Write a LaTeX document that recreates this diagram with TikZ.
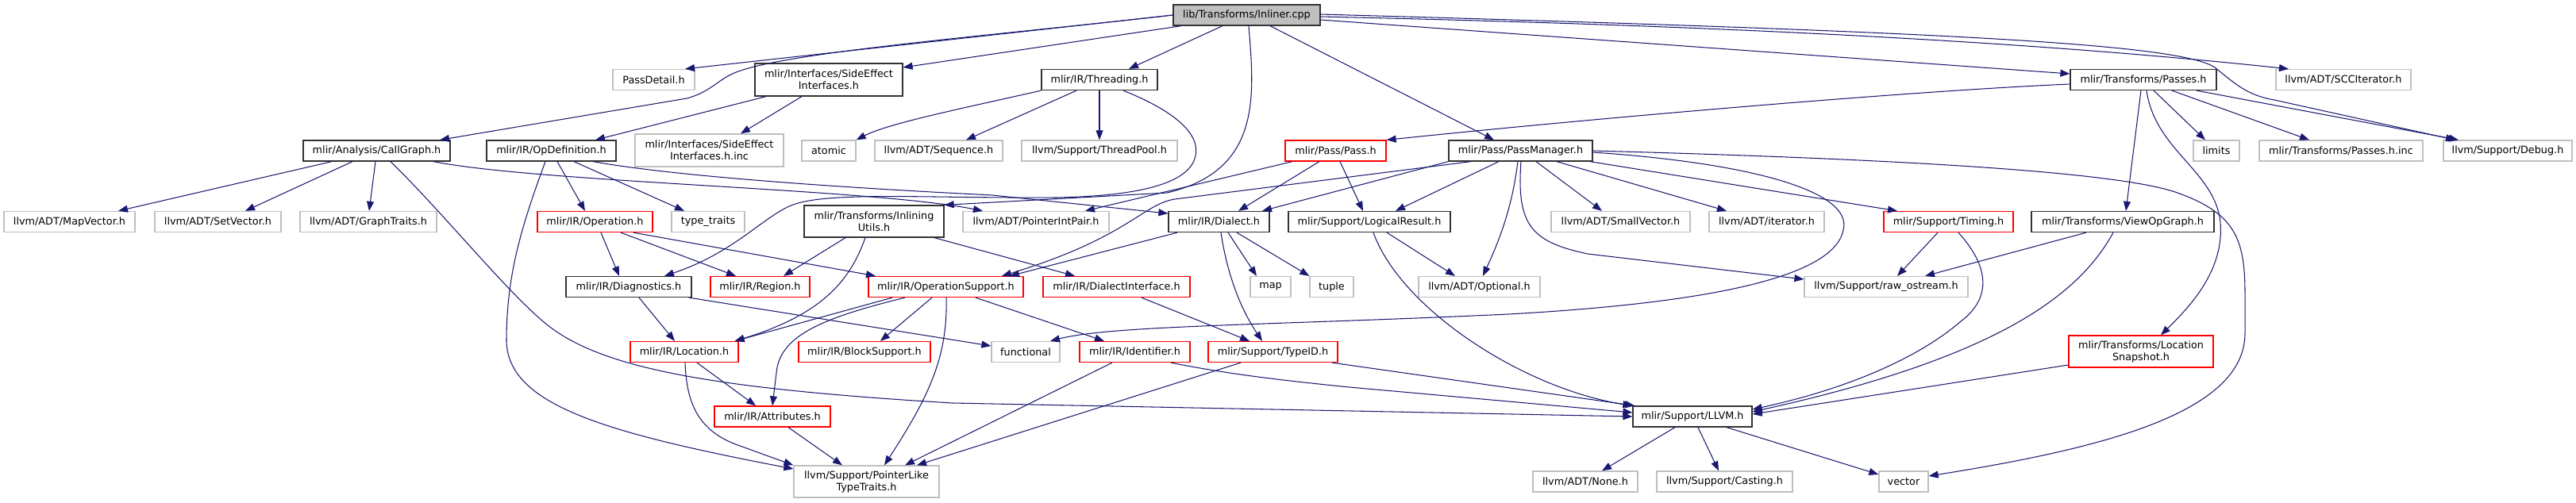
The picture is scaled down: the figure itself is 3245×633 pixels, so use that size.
\documentclass[tikz,border=0pt]{standalone}
\usepackage{fontspec}
\setmainfont{DejaVu Sans}
\usetikzlibrary{arrows.meta}
\definecolor{edgec}{HTML}{191970}
\definecolor{gborder}{HTML}{BFBFBF}
\definecolor{rborder}{HTML}{FF0000}
\definecolor{bborder}{HTML}{333333}
\definecolor{rootfill}{HTML}{BFBFBF}
\tikzset{
  box/.style={rectangle, inner sep=0pt, line width=1.25pt, fill=white,
    font=\fontsize{12.8}{15}\selectfont, align=center},
  bk/.style={box, draw=bborder},
  gr/.style={box, draw=gborder},
  rd/.style={box, draw=rborder},
  root/.style={box, draw=bborder, fill=rootfill},
  edge/.style={draw=edgec, line width=1.05pt, -{Triangle[length=12pt,width=9pt]}}
}
\begin{document}
\begin{tikzpicture}[x=1pt,y=-1pt]
\useasboundingbox (0,0) rectangle (3245,633);
% row 1
\node[root, minimum width=185, minimum height=26] (inliner) at (1570.5,19) {lib/Transforms/Inliner.cpp};
% row 2
\node[gr, minimum width=103, minimum height=26] (passdetail) at (823.5,100.5) {PassDetail.h};
\node[bk, minimum width=186, minimum height=41] (sideeffect) at (1044,100.5) {mlir/Interfaces/SideEffect\\Interfaces.h};
\node[bk, minimum width=146, minimum height=26] (threading) at (1385,100.5) {mlir/IR/Threading.h};
\node[bk, minimum width=184, minimum height=26] (passes) at (2700,100.5) {mlir/Transforms/Passes.h};
\node[gr, minimum width=170, minimum height=26] (scc) at (2952,100.5) {llvm/ADT/SCCIterator.h};
% row 3
\node[bk, minimum width=185, minimum height=26] (callgraph) at (474.5,190) {mlir/Analysis/CallGraph.h};
\node[bk, minimum width=163, minimum height=26] (opdef) at (694.5,190) {mlir/IR/OpDefinition.h};
\node[gr, minimum width=187, minimum height=41] (seinc) at (893.5,189.5) {mlir/Interfaces/SideEffect\\Interfaces.h.inc};
\node[gr, minimum width=68, minimum height=26] (atomic) at (1044,190) {atomic};
\node[gr, minimum width=161, minimum height=26] (sequence) at (1182.5,190) {llvm/ADT/Sequence.h};
\node[gr, minimum width=196, minimum height=26] (threadpool) at (1385,190) {llvm/Support/ThreadPool.h};
\node[rd, minimum width=127, minimum height=26] (pass) at (1682.5,190) {mlir/Pass/Pass.h};
\node[bk, minimum width=181, minimum height=26] (passmanager) at (1915.5,190) {mlir/Pass/PassManager.h};
\node[gr, minimum width=58, minimum height=26] (limits) at (2792,190) {limits};
\node[gr, minimum width=206, minimum height=26] (passesinc) at (2949,190) {mlir/Transforms/Passes.h.inc};
\node[gr, minimum width=162, minimum height=26] (debug) at (3159,190) {llvm/Support/Debug.h};
% row 4
\node[gr, minimum width=165, minimum height=26] (mapvector) at (87.5,279.5) {llvm/ADT/MapVector.h};
\node[gr, minimum width=159, minimum height=26] (setvector) at (274.5,279.5) {llvm/ADT/SetVector.h};
\node[gr, minimum width=172, minimum height=26] (graphtraits) at (464,279.5) {llvm/ADT/GraphTraits.h};
\node[rd, minimum width=145, minimum height=26] (operation) at (749.5,279.5) {mlir/IR/Operation.h};
\node[gr, minimum width=92, minimum height=26] (typetraits) at (892,279.5) {type\_traits};
\node[bk, minimum width=176, minimum height=40] (inlining) at (1101,279) {mlir/Transforms/Inlining\\Utils.h};
\node[gr, minimum width=184, minimum height=26] (pointerintpair) at (1305,279.5) {llvm/ADT/PointerIntPair.h};
\node[bk, minimum width=127, minimum height=26] (dialect) at (1535.5,279.5) {mlir/IR/Dialect.h};
\node[bk, minimum width=204, minimum height=26] (logicalresult) at (1725,279.5) {mlir/Support/LogicalResult.h};
\node[gr, minimum width=175, minimum height=26] (smallvector) at (2041.5,279.5) {llvm/ADT/SmallVector.h};
\node[gr, minimum width=145, minimum height=26] (iterator) at (2225.5,279.5) {llvm/ADT/iterator.h};
\node[rd, minimum width=163, minimum height=26] (timing) at (2454.5,279.5) {mlir/Support/Timing.h};
\node[bk, minimum width=230, minimum height=26] (viewopgraph) at (2674,279.5) {mlir/Transforms/ViewOpGraph.h};
% row 5
\node[bk, minimum width=158, minimum height=26] (diagnostics) at (792,361.5) {mlir/IR/Diagnostics.h};
\node[rd, minimum width=125, minimum height=26] (region) at (957.5,361.5) {mlir/IR/Region.h};
\node[rd, minimum width=195, minimum height=26] (opsupport) at (1191.5,361.5) {mlir/IR/OperationSupport.h};
\node[rd, minimum width=185, minimum height=26] (dialectinterface) at (1406.5,361.5) {mlir/IR/DialectInterface.h};
\node[gr, minimum width=51, minimum height=26] (map) at (1600.5,361.5) {map};
\node[gr, minimum width=55, minimum height=26] (tuple) at (1677.5,361.5) {tuple};
\node[gr, minimum width=153, minimum height=26] (optional) at (1863.5,361.5) {llvm/ADT/Optional.h};
\node[gr, minimum width=206, minimum height=26] (rawostream) at (2376,361.5) {llvm/Support/raw\_ostream.h};
% row 6
\node[rd, minimum width=136, minimum height=26] (location) at (862,443.5) {mlir/IR/Location.h};
\node[rd, minimum width=166, minimum height=26] (blocksupport) at (1089,443.5) {mlir/IR/BlockSupport.h};
\node[gr, minimum width=86, minimum height=26] (functional) at (1292,443.5) {functional};
\node[rd, minimum width=139, minimum height=26] (identifier) at (1429.5,443.5) {mlir/IR/Identifier.h};
\node[rd, minimum width=163, minimum height=26] (typeid) at (1603.5,443.5) {mlir/Support/TypeID.h};
\node[rd, minimum width=182, minimum height=40] (locsnapshot) at (2697,443) {mlir/Transforms/Location\\Snapshot.h};
% row 7
\node[rd, minimum width=146, minimum height=26] (attributes) at (973,525) {mlir/IR/Attributes.h};
\node[bk, minimum width=150, minimum height=26] (llvm) at (2132,525) {mlir/Support/LLVM.h};
% row 8
\node[gr, minimum width=183, minimum height=40] (pointerlike) at (1091.5,607) {llvm/Support/PointerLike\\TypeTraits.h};
\node[gr, minimum width=132, minimum height=26] (none) at (1997,607) {llvm/ADT/None.h};
\node[gr, minimum width=171, minimum height=26] (casting) at (2172.5,607) {llvm/Support/Casting.h};
\node[gr, minimum width=62, minimum height=26] (vector) at (2398,607) {vector};

% ---- edges from Inliner
\draw[edge] (inliner.west) -- (863,0 |- passdetail.north);
\draw[edge] (inliner.west) .. controls (1250,45) and (985,66) .. (925,92) .. controls (905,100) and (895,116) .. (865,124) -- (554,0 |- callgraph.north);
\draw[edge] (1488,0 |- inliner.south) -- (sideeffect.north east |- 0,85);
\draw[edge] (1540,0 |- inliner.south) -- (1422,0 |- threading.north);
\draw[edge] (1573,0 |- inliner.south) .. controls (1580,120) and (1590,215) .. (1470,243) -- (inlining.north east);
\draw[edge] (1600,0 |- inliner.south) -- (1882,0 |- passmanager.north);
\draw[edge] (inliner.east |- 0,25) -- (passes.west |- 0,93);
\draw[edge] (inliner.east |- 0,21) .. controls (2300,35) and (2650,62) .. (2883,0 |- scc.north);
\draw[edge] (inliner.east |- 0,18) .. controls (2450,40) and (2745,55) .. (2790,85) .. controls (2815,105) and (2830,120) .. (2865,126) -- (3093,0 |- debug.north);
% ---- SideEffect
\draw[edge] (965,0 |- sideeffect.south) -- (750,0 |- opdef.north);
\draw[edge] (1010,0 |- sideeffect.south) -- (933,0 |- seinc.north);
% ---- Threading
\draw[edge] (threading.south west) .. controls (1220,135) and (1120,155) .. (atomic.north east);
\draw[edge] (1356,0 |- threading.south) -- (1217,0 |- sequence.north);
\draw[edge] (threading.south) -- (threadpool.north);
\draw[edge] (1415,0 |- threading.south) .. controls (1480,140) and (1515,170) .. (1505,200) .. controls (1495,230) and (1440,247) .. (1330,249) .. controls (1150,250) and (1030,240) .. (990,262) .. controls (955,280) and (920,320) .. (837,0 |- diagnostics.north);
% ---- Passes
\draw[edge] (passes.west |- 0,106) .. controls (2400,115) and (2000,150) .. (pass.north east);
\draw[edge] (2713,0 |- passes.south) -- (2778,0 |- limits.north);
\draw[edge] (2736,0 |- passes.south) -- (2909,0 |- passesinc.north);
\draw[edge] (2767,0 |- passes.south) -- (3097,0 |- debug.north);
\draw[edge] (2697,0 |- passes.south) -- (2678,0 |- viewopgraph.north);
\draw[edge] (2704,0 |- passes.south) .. controls (2715,190) and (2790,215) .. (2797,280) .. controls (2802,340) and (2760,385) .. (2722,0 |- locsnapshot.north);
% ---- CallGraph
\draw[edge] (418,0 |- callgraph.south) -- (149,0 |- mapvector.north);
\draw[edge] (444,0 |- callgraph.south) -- (309,0 |- setvector.north);
\draw[edge] (473,0 |- callgraph.south) -- (465,0 |- graphtraits.north);
\draw[edge] (546,0 |- callgraph.south) .. controls (680,230) and (1100,238) .. (1238,0 |- pointerintpair.north);
\draw[edge] (492,0 |- callgraph.south) .. controls (560,270) and (640,370) .. (690,410) .. controls (760,465) and (900,490) .. (1200,508) -- (llvm.west |- 0,525);
% ---- OpDefinition
\draw[edge] (702,0 |- opdef.south) -- (737,0 |- operation.north);
\draw[edge] (723,0 |- opdef.south) -- (862,0 |- typetraits.north);
\draw[edge] (747,0 |- opdef.south) .. controls (850,222) and (1050,236) .. (1250,246) -- (dialect.west |- 0,269);
\draw[edge] (687,0 |- opdef.south) .. controls (655,290) and (638,350) .. (638,430) .. controls (640,510) and (760,545) .. (pointerlike.west |- 0,591);
% ---- Pass
\draw[edge] (1628,0 |- pass.south) -- (1367,0 |- pointerintpair.north);
\draw[edge] (1662,0 |- pass.south) -- (1560,0 |- dialect.north);
\draw[edge] (1688,0 |- pass.south) -- (1717,0 |- logicalresult.north);
% ---- PassManager
\draw[edge] (passmanager.south west) -- (1590,0 |- dialect.north);
\draw[edge] (1853,0 |- passmanager.south) -- (1480,251) .. controls (1440,257) and (1420,300) .. (1262,0 |- opsupport.north);
\draw[edge] (1888,0 |- passmanager.south) -- (1758,0 |- logicalresult.north);
\draw[edge] (1912,0 |- passmanager.south) .. controls (1905,260) and (1890,300) .. (1868,0 |- optional.north);
\draw[edge] (1916,0 |- passmanager.south) .. controls (1910,285) and (1930,305) .. (2000,320) -- (rawostream.west |- 0,352);
\draw[edge] (1935,0 |- passmanager.south) -- (2018,0 |- smallvector.north);
\draw[edge] (1961,0 |- passmanager.south) -- (2175,0 |- iterator.north);
\draw[edge] (2003,0 |- passmanager.south) -- (2390,0 |- timing.north);
\draw[edge] (passmanager.east |- 0,192) .. controls (2200,205) and (2335,240) .. (2322,290) .. controls (2310,350) and (2150,382) .. (1900,396) .. controls (1600,410) and (1400,410) .. (1323,0 |- functional.north);
\draw[edge] (passmanager.east |- 0,190) .. controls (2300,198) and (2650,212) .. (2740,242) .. controls (2815,268) and (2828,300) .. (2828,370) -- (2828,420) .. controls (2828,520) and (2650,565) .. (vector.east |- 0,600);
% ---- Operation
\draw[edge] (757,0 |- operation.south) -- (780,0 |- diagnostics.north);
\draw[edge] (782,0 |- operation.south) -- (927,0 |- region.north);
\draw[edge] (798,0 |- operation.south) -- (1103,0 |- opsupport.north);
% ---- InliningUtils
\draw[edge] (1090,0 |- inlining.south) .. controls (1072,350) and (1040,395) .. ([xshift=-5pt]location.north east);
\draw[edge] (1065,0 |- inlining.south) -- (987,0 |- region.north);
\draw[edge] (1177,0 |- inlining.south) -- (1354,0 |- dialectinterface.north);
% ---- Dialect
\draw[edge] (1483,0 |- dialect.south) -- (1272,0 |- opsupport.north);
\draw[edge] (1547,0 |- dialect.south) -- (1583,0 |- map.north);
\draw[edge] (1558,0 |- dialect.south) -- (tuple.north west);
\draw[edge] (1538,0 |- dialect.south) .. controls (1545,340) and (1560,385) .. (1590,0 |- typeid.north);
% ---- LogicalResult
\draw[edge] (1747,0 |- logicalresult.south) -- (1833,0 |- optional.north);
\draw[edge] (1730,0 |- logicalresult.south) .. controls (1765,390) and (1920,490) .. (llvm.north west);
% ---- Timing / ViewOpGraph / LocationSnapshot
\draw[edge] (2441,0 |- timing.south) -- (2390,0 |- rawostream.north);
\draw[edge] (2467,0 |- timing.south) .. controls (2505,335) and (2510,375) .. (2470,405) .. controls (2430,440) and (2350,485) .. (llvm.east |- 0,516);
\draw[edge] (2628,0 |- viewopgraph.south) -- (2425,0 |- rawostream.north);
\draw[edge] (2662,0 |- viewopgraph.south) .. controls (2620,370) and (2520,450) .. (llvm.east |- 0,519);
\draw[edge] (locsnapshot.west |- 0,460) -- (llvm.east |- 0,522);
% ---- Diagnostics
\draw[edge] (805,0 |- diagnostics.south) -- (850,0 |- location.north);
\draw[edge] (868,0 |- diagnostics.south) -- (functional.west |- 0,436);
% ---- OperationSupport
\draw[edge] (1124,0 |- opsupport.south) -- ([xshift=-5pt]location.north east);
\draw[edge] (1140,0 |- opsupport.south) .. controls (1030,402) and (982,425) .. (978,470) -- (973,0 |- attributes.north);
\draw[edge] (1174,0 |- opsupport.south) -- (1109,0 |- blocksupport.north);
\draw[edge] (1229,0 |- opsupport.south) -- (1391,0 |- identifier.north);
\draw[edge] (1192,0 |- opsupport.south) .. controls (1194,450) and (1170,500) .. (1114,0 |- pointerlike.north);
% ---- DialectInterface
\draw[edge] (1438,0 |- dialectinterface.south) -- (1574,0 |- typeid.north);
% ---- Location
\draw[edge] (878,0 |- location.south) -- (952,0 |- attributes.north);
\draw[edge] (863,0 |- location.south) .. controls (865,510) and (880,545) .. (935,563) -- (pointerlike.north west);
% ---- Identifier
\draw[edge] (1401,0 |- identifier.south) -- (1140,0 |- pointerlike.north);
\draw[edge] (1475,0 |- identifier.south) .. controls (1540,470) and (1600,478) .. (1700,488) -- (llvm.west |- 0,520);
% ---- TypeID
\draw[edge] (1563,0 |- typeid.south) -- (1155,0 |- pointerlike.north);
\draw[edge] (1678,0 |- typeid.south) -- ([xshift=3pt]llvm.north west);
% ---- Attributes
\draw[edge] (993,0 |- attributes.south) -- (1061,0 |- pointerlike.north);
% ---- LLVM
\draw[edge] (2110,0 |- llvm.south) -- (2018,0 |- none.north);
\draw[edge] (2139,0 |- llvm.south) -- (2165,0 |- casting.north);
\draw[edge] (2175,0 |- llvm.south) -- (vector.north west |- 0,598);
\end{tikzpicture}
\end{document}
